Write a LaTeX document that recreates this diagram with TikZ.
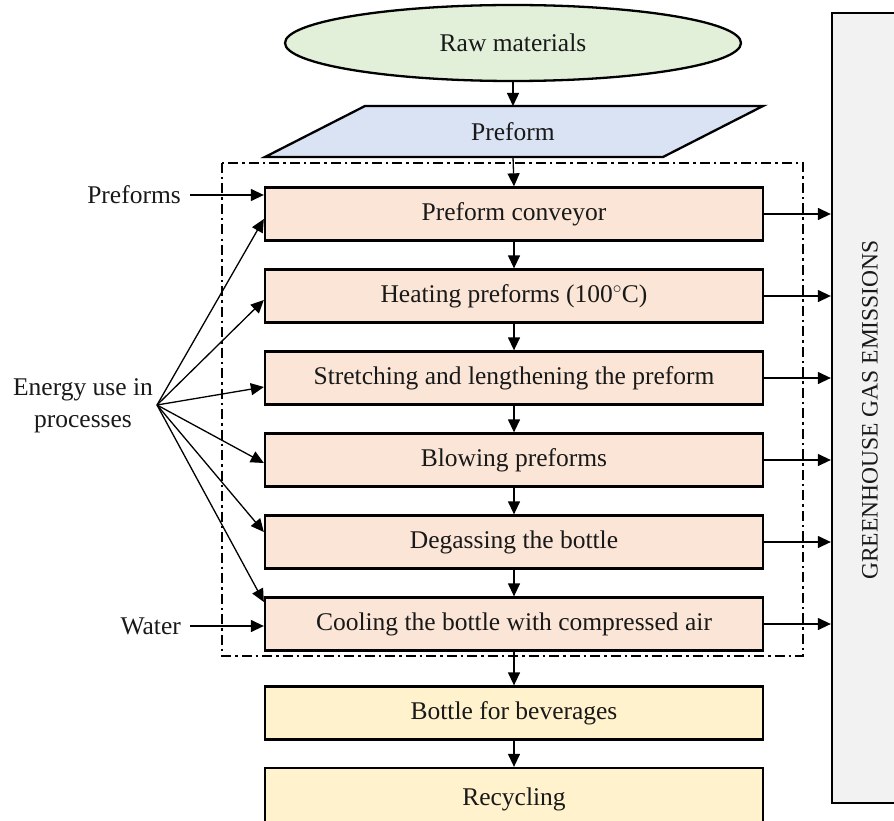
\documentclass[tikz,border=0pt]{standalone}
\usepackage{fontspec}
\setmainfont{Liberation Serif}
\usetikzlibrary{shapes.geometric,arrows.meta}
\definecolor{cgreen}{HTML}{E2F0D9}
\definecolor{cblue}{HTML}{DAE3F3}
\definecolor{cpeach}{HTML}{FBE5D6}
\definecolor{cyel}{HTML}{FFF2CC}
\definecolor{cgray}{HTML}{F2F2F2}
\begin{document}
\begin{tikzpicture}[x=1pt,y=-1pt,
  every node/.style={font=\fontsize{25.5}{32}\selectfont, text=black!90},
  procbox/.style={draw, line width=2.3pt, fill=cpeach, minimum width=498pt, minimum height=53pt, inner sep=0pt},
  outbox/.style={procbox, fill=cyel},
  arr/.style={-{Triangle[length=13pt,width=12pt]}, line width=1.3pt},
  lbl/.style={inner sep=0pt}
]
\useasboundingbox (0,0) rectangle (894,821);
% raw materials
\node[ellipse, draw, line width=2.3pt, fill=cgreen, minimum width=456pt, minimum height=76pt] (raw) at (513,43) {Raw materials};
% preform parallelogram
\draw[line width=2.3pt, fill=cblue] (365,106) -- (763,106) -- (663,157) -- (265,157) -- cycle;
\node[lbl] (pf) at (513,132) {Preform};
\coordinate (pftop) at (513,106);
\coordinate (pfbot) at (513,157);
% dash-dot boundary
\draw[line width=2pt, dash pattern=on 10pt off 4pt on 2.5pt off 4pt] (222,163) rectangle (803,656);
% process boxes
\node[procbox] (p1) at (514,214) {Preform conveyor};
\node[procbox] (p2) at (514,296) {Heating preforms (100$^{\circ}$C)};
\node[procbox] (p3) at (514,378) {Stretching and lengthening the preform};
\node[procbox] (p4) at (514,460) {Blowing preforms};
\node[procbox] (p5) at (514,542) {Degassing the bottle};
\node[procbox] (p6) at (514,624) {Cooling the bottle with compressed air};
\node[outbox] (b1) at (514,713) {Bottle for beverages};
\node[outbox, minimum height=62pt] (b2) at (514,799) {Recycling};
% GHG box
\node[draw, line width=2.3pt, fill=cgray, minimum width=70pt, minimum height=790pt, inner sep=0pt] (ghg) at (867,408) {};
\node[rotate=90, font=\fontsize{23.5}{28}\selectfont, text=black!90] (ghgt) at (870,410) {GREENHOUSE GAS EMISSIONS};
% vertical flow
\draw[arr] (raw.south) -- (pftop);
\draw[arr] (pfbot) -- (p1.north);
\draw[arr] (p1) -- (p2);
\draw[arr] (p2) -- (p3);
\draw[arr] (p3) -- (p4);
\draw[arr] (p4) -- (p5);
\draw[arr] (p5) -- (p6);
\draw[arr] (p6) -- (b1);
\draw[arr] (b1) -- (b2);
% emissions
\foreach \p in {p1,p2,p3,p4,p5,p6}{
  \draw[arr] (\p.east) -- (ghg.west |- \p.east);
}
% left inputs
\node[lbl, anchor=east] (pfs) at (181,195) {Preforms};
\draw[arr] ([xshift=9pt]pfs.east) -- (p1.west |- pfs.east);
\node[lbl, anchor=east] (wat) at (181,626) {Water};
\draw[arr] ([xshift=9pt]wat.east) -- (p6.west |- wat.east);
\node[align=center, inner sep=0pt] (en) at (83,406) {Energy use in\\processes};
\coordinate (es) at (157,405);
\draw[arr] (es) -- ([yshift=-5pt]p1.west);
\draw[arr] (es) -- ([yshift=-4pt]p2.west);
\draw[arr] (es) -- ([yshift=-9pt]p3.west);
\draw[arr] (es) -- ([yshift=-3pt]p4.west);
\draw[arr] (es) -- ([yshift=10pt]p5.west);
\draw[arr] (es) -- ([yshift=22pt]p6.west);
\end{tikzpicture}
\end{document}
